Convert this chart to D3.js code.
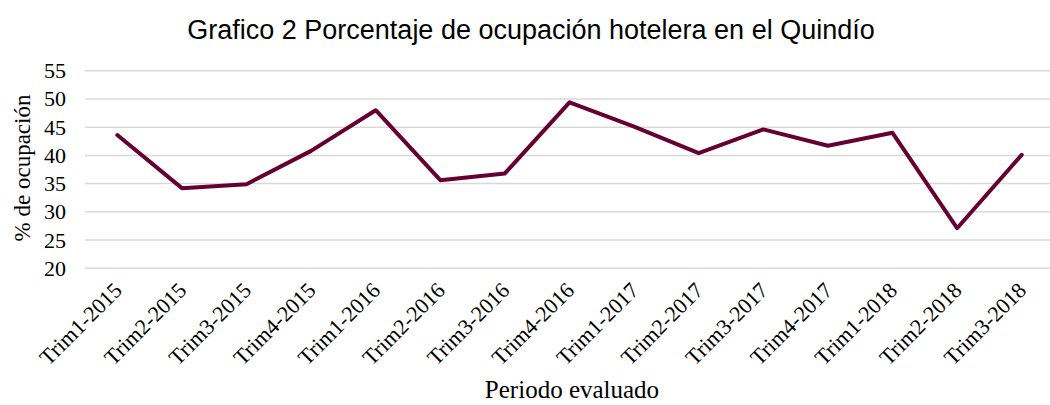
<!DOCTYPE html>
<html>
<head>
<meta charset="utf-8">
<script src="https://cdn.jsdelivr.net/npm/d3@7"></script>
<style>
  body { margin: 0; background: #fff; }
  svg { display: block; }
</style>
</head>
<body>
<svg width="1050" height="405"></svg>
<script>
// datos
var periodos = ["Trim1-2015", "Trim2-2015", "Trim3-2015", "Trim4-2015",
                "Trim1-2016", "Trim2-2016", "Trim3-2016", "Trim4-2016",
                "Trim1-2017", "Trim2-2017", "Trim3-2017", "Trim4-2017",
                "Trim1-2018", "Trim2-2018", "Trim3-2018"];
var ocupacion = [43.6, 34.2, 34.9, 40.8, 48.0, 35.6, 36.8, 49.4,
                 45.1, 40.4, 44.6, 41.7, 44.0, 27.1, 40.1];
var yTicks = [20, 25, 30, 35, 40, 45, 50, 55];

var svg = d3.select("svg"),
    serif = "'Liberation Serif', 'Times New Roman', serif";

var x = d3.scalePoint()
    .domain(periodos)
    .range([117.3, 1021.7]);

var y = d3.scaleLinear()
    .domain([20, 55])
    .range([268.3, 70.7]);

// lineas de cuadricula
svg.append("g")
    .selectAll("line")
    .data(yTicks)
    .enter().append("line")
    .attr("x1", 85)
    .attr("x2", 1050)
    .attr("y1", function(d) { return y(d); })
    .attr("y2", function(d) { return y(d); })
    .attr("stroke", "#d9d9d9")
    .attr("stroke-width", 1.5);

// eje y
var yAxis = svg.append("g")
    .attr("transform", "translate(85,0)")
    .call(d3.axisLeft(y).tickValues(yTicks).tickSize(0).tickPadding(19));
yAxis.select(".domain").remove();
yAxis.selectAll("text")
    .attr("font-family", serif)
    .attr("font-size", 22)
    .attr("fill", "#000");

// eje x
var xAxis = svg.append("g")
    .attr("transform", "translate(0,268.3)")
    .call(d3.axisBottom(x).tickSize(0));
xAxis.select(".domain").remove();
xAxis.selectAll("text")
    .attr("font-family", serif)
    .attr("font-size", 22)
    .attr("fill", "#000")
    .style("text-anchor", "end")
    .attr("dx", null)
    .attr("dy", "0.35em")
    .attr("y", 0)
    .attr("transform", "translate(0,18) rotate(-45)");

// serie
var line = d3.line()
    .x(function(d, i) { return x(periodos[i]); })
    .y(function(d) { return y(d); });

svg.append("path")
    .datum(ocupacion)
    .attr("d", line)
    .attr("fill", "none")
    .attr("stroke", "#660033")
    .attr("stroke-width", 4)
    .attr("stroke-linejoin", "round")
    .attr("stroke-linecap", "round");

// titulos
svg.append("text")
    .attr("x", 531)
    .attr("y", 39)
    .attr("text-anchor", "middle")
    .attr("font-family", "'Liberation Sans', Arial, sans-serif")
    .attr("font-size", 27)
    .text("Grafico 2 Porcentaje de ocupación hotelera en el Quindío");

svg.append("text")
    .attr("transform", "translate(30,168) rotate(-90)")
    .attr("text-anchor", "middle")
    .attr("font-family", serif)
    .attr("font-size", 23)
    .text("% de ocupación");

svg.append("text")
    .attr("x", 572)
    .attr("y", 398)
    .attr("text-anchor", "middle")
    .attr("font-family", serif)
    .attr("font-size", 25)
    .text("Periodo evaluado");
</script>
</body>
</html>
